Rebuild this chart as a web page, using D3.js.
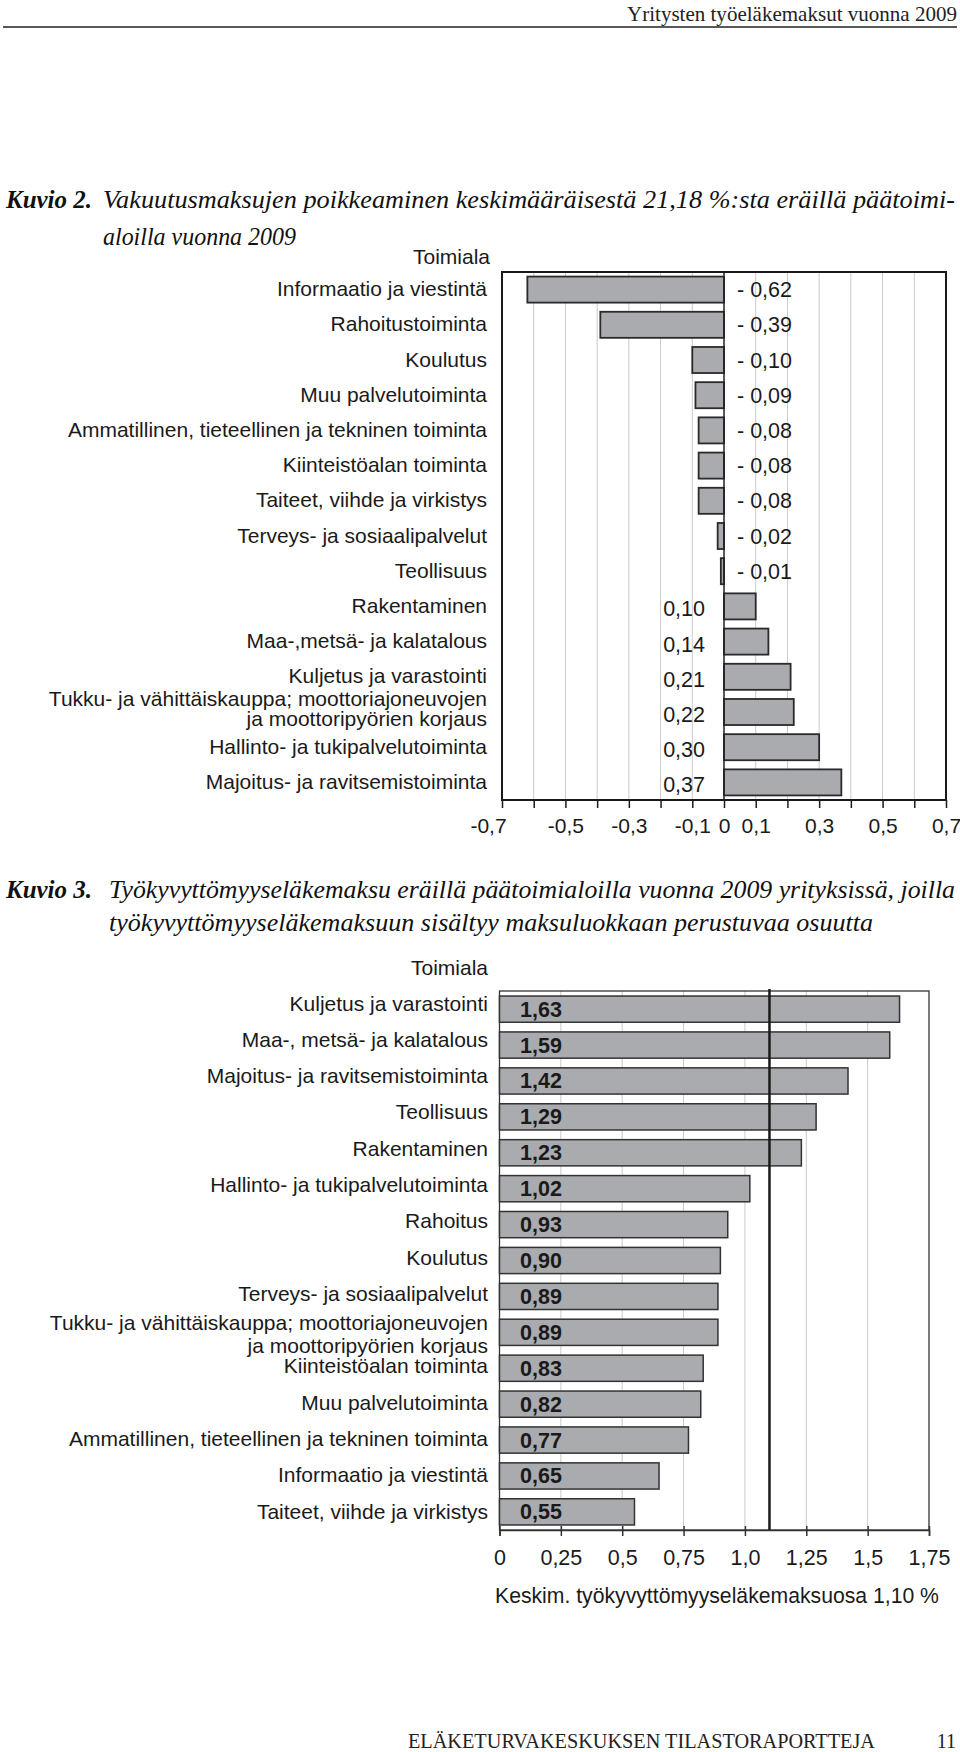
<!DOCTYPE html>
<html>
<head>
<meta charset="utf-8">
<script src="https://cdn.jsdelivr.net/npm/d3@7"></script>
<style>
  body { margin: 0; background: #fff; }
  svg { display: block; }
</style>
</head>
<body>
<svg id="page" width="960" height="1752"></svg>
<script>
// --- données : Kuvio 2 ---
const cats1 = [
  "Informaatio ja viestintä",
  "Rahoitustoiminta",
  "Koulutus",
  "Muu palvelutoiminta",
  "Ammatillinen, tieteellinen ja tekninen toiminta",
  "Kiinteistöalan toiminta",
  "Taiteet, viihde ja virkistys",
  "Terveys- ja sosiaalipalvelut",
  "Teollisuus",
  "Rakentaminen",
  "Maa-,metsä- ja kalatalous",
  "Kuljetus ja varastointi",
  "Tukku- ja vähittäiskauppa;  moottoriajoneuvojen\nja moottoripyörien korjaus",
  "Hallinto- ja tukipalvelutoiminta",
  "Majoitus- ja ravitsemistoiminta"
];
const vals1 = [-0.62, -0.39, -0.10, -0.09, -0.08, -0.08, -0.08, -0.02, -0.01,
               0.10, 0.14, 0.21, 0.22, 0.30, 0.37];
const ticks1 = [-0.7, -0.6, -0.5, -0.4, -0.3, -0.2, -0.1, 0, 0.1, 0.2, 0.3, 0.4, 0.5, 0.6, 0.7];
const tickLabels1 = ["-0,7", "", "-0,5", "", "-0,3", "", "-0,1", "0", "0,1", "", "0,3", "", "0,5", "", "0,7"];

// --- données : Kuvio 3 ---
const cats2 = [
  "Kuljetus ja varastointi",
  "Maa-, metsä- ja kalatalous",
  "Majoitus- ja ravitsemistoiminta",
  "Teollisuus",
  "Rakentaminen",
  "Hallinto- ja tukipalvelutoiminta",
  "Rahoitus",
  "Koulutus",
  "Terveys- ja sosiaalipalvelut",
  "Tukku- ja vähittäiskauppa;  moottoriajoneuvojen\nja moottoripyörien korjaus",
  "Kiinteistöalan toiminta",
  "Muu palvelutoiminta",
  "Ammatillinen, tieteellinen ja tekninen toiminta",
  "Informaatio ja viestintä",
  "Taiteet, viihde ja virkistys"
];
const vals2 = [1.63, 1.59, 1.42, 1.29, 1.23, 1.02, 0.93, 0.90, 0.89, 0.89, 0.83, 0.82, 0.77, 0.65, 0.55];
const ticks2 = [0, 0.25, 0.5, 0.75, 1.0, 1.25, 1.5, 1.75];
const tickLabels2 = ["0", "0,25", "0,5", "0,75", "1,0", "1,25", "1,5", "1,75"];
const average2 = 1.10;

const sans = "'Liberation Sans', Arial, sans-serif";
const serif = "'Liberation Serif', 'Times New Roman', serif";
const barFill = "#a9abae";
const barStroke = "#2a2a2a";
const gridColor = "#cacaca";
const fmt = v => d3.format(".2f")(Math.abs(v)).replace(".", ",");

const svg = d3.select("#page");

// --- en-tête de page ---
svg.append("text")
  .attr("x", 957).attr("y", 21)
  .attr("text-anchor", "end")
  .style("font-family", serif).style("font-size", "21px").attr("fill", "#222")
  .attr("textLength", 330).attr("lengthAdjust", "spacingAndGlyphs")
  .text("Yritysten työeläkemaksut vuonna 2009");
svg.append("line")
  .attr("x1", 3).attr("x2", 957).attr("y1", 27).attr("y2", 27)
  .attr("stroke", "#222").attr("stroke-width", 1.6);

// --- titres ---
function title(y, gap, num, line1, line2, x0, w2) {
  const g = svg.append("g").style("font-family", serif).style("font-size", "26px").attr("fill", "#111");
  g.append("text").attr("x", 6).attr("y", y)
    .style("font-style", "italic").style("font-weight", "bold")
    .attr("textLength", 86).attr("lengthAdjust", "spacingAndGlyphs").text(num);
  g.append("text").attr("x", x0).attr("y", y)
    .style("font-style", "italic")
    .attr("textLength", 955 - x0).attr("lengthAdjust", "spacingAndGlyphs")
    .text(line1);
  g.append("text").attr("x", x0).attr("y", y + gap)
    .style("font-style", "italic")
    .attr("textLength", w2).attr("lengthAdjust", "spacingAndGlyphs")
    .text(line2);
}
title(208, 37, "Kuvio 2.", "Vakuutusmaksujen poikkeaminen keskimääräisestä 21,18 %:sta eräillä päätoimi-",
      "aloilla vuonna 2009", 103, 193);
title(898, 33, "Kuvio 3.", "Työkyvyttömyyseläkemaksu eräillä päätoimialoilla vuonna 2009 yrityksissä, joilla",
      "työkyvyttömyyseläkemaksuun sisältyy maksuluokkaan perustuvaa osuutta", 109, 764);

// étiquettes de catégorie (multi-lignes possibles), centreY(c) = centre vertical
function catLabels(g, cats, centreY, xRight, lineH, multiShift) {
  cats.forEach(c => {
    const lines = c.split("\n");
    const t = g.append("text")
      .attr("text-anchor", "end")
      .style("font-family", sans).style("font-size", "21px").attr("fill", "#1a1a1a");
    const cy = centreY(c) + (lines.length > 1 ? multiShift : 0);
    lines.forEach((l, i) => {
      t.append("tspan")
        .attr("x", xRight)
        .attr("y", cy + 7.5 + (i - (lines.length - 1) / 2) * lineH)
        .text(l);
    });
  });
}

// --- KUVIO 2 : barres divergentes ---
{
  const left = 502, right = 946, top = 272, bottom = 800;
  const x = d3.scaleLinear().domain([-0.7, 0.7]).range([left, right]);
  const y = d3.scaleBand().domain(cats1).range([top, bottom]).paddingInner(0.26).paddingOuter(0.13);
  const g = svg.append("g");

  g.append("text").attr("x", 490).attr("y", 264).attr("text-anchor", "end")
    .style("font-family", sans).style("font-size", "21px").attr("fill", "#1a1a1a").text("Toimiala");

  // grille
  g.selectAll("line.grid").data(ticks1.filter(t => t !== 0 && Math.abs(t) < 0.7)).join("line")
    .attr("class", "grid")
    .attr("x1", d => x(d)).attr("x2", d => x(d)).attr("y1", top).attr("y2", bottom)
    .attr("stroke", gridColor).attr("stroke-width", 1);

  // barres
  const data = cats1.map((c, i) => ({ c, v: vals1[i] }));
  g.selectAll("rect.bar").data(data).join("rect")
    .attr("class", "bar")
    .attr("x", d => x(Math.min(0, d.v)))
    .attr("width", d => Math.abs(x(d.v) - x(0)))
    .attr("y", d => y(d.c))
    .attr("height", y.bandwidth())
    .attr("fill", barFill).attr("stroke", barStroke).attr("stroke-width", 1.8);

  // ligne zéro
  g.append("line").attr("x1", x(0)).attr("x2", x(0)).attr("y1", top).attr("y2", bottom)
    .attr("stroke", "#222").attr("stroke-width", 1.5);

  // cadre
  g.append("rect").attr("x", left).attr("y", top).attr("width", right - left).attr("height", bottom - top)
    .attr("fill", "none").attr("stroke", "#1a1a1a").attr("stroke-width", 2);

  // valeurs
  g.selectAll("text.val").data(data).join("text")
    .attr("class", "val")
    .attr("x", d => d.v < 0 ? 737 : 705)
    .attr("y", d => y(d.c) + y.bandwidth() / 2 + (d.v < 0 ? 7.5 : 10))
    .attr("text-anchor", d => d.v < 0 ? "start" : "end")
    .style("font-family", sans).style("font-size", "21.5px").attr("fill", "#1a1a1a")
    .text(d => d.v < 0 ? "- " + fmt(d.v) : fmt(d.v));

  catLabels(g, cats1, c => y(c) + y.bandwidth() / 2 - 1, 487, 20, -3);

  // axe
  const axis = d3.axisBottom(x).tickValues(ticks1).tickSize(8).tickPadding(10)
    .tickFormat((d, i) => tickLabels1[i]);
  const ax = g.append("g").attr("transform", `translate(0,${bottom})`).call(axis);
  ax.select(".domain").remove();
  ax.selectAll(".tick line").attr("stroke", "#1a1a1a").attr("stroke-width", 1.5);
  ax.selectAll(".tick text").style("font-family", sans).style("font-size", "21px").attr("fill", "#1a1a1a")
    .attr("dx", (d, i) => i === 0 ? -14 : 0);
}

// --- KUVIO 3 : barres horizontales ---
{
  const left = 499.5, right = 929, top = 991, bottom = 1530;
  const x = d3.scaleLinear().domain([0, 1.75]).range([left, right]);
  const y = d3.scaleBand().domain(cats2).range([top, bottom]).paddingInner(0.27).paddingOuter(0.14);
  // les libellés suivent un pas légèrement différent des barres
  const yLabel = d3.scalePoint().domain(cats2).range([1003, 1511]);
  const g = svg.append("g");

  g.append("text").attr("x", 488).attr("y", 975).attr("text-anchor", "end")
    .style("font-family", sans).style("font-size", "21px").attr("fill", "#1a1a1a").text("Toimiala");

  g.selectAll("line.grid").data(ticks2.filter(t => t > 0 && t < 1.75)).join("line")
    .attr("class", "grid")
    .attr("x1", d => x(d)).attr("x2", d => x(d)).attr("y1", top).attr("y2", bottom)
    .attr("stroke", gridColor).attr("stroke-width", 1);

  // cadre
  g.append("rect").attr("x", left).attr("y", top).attr("width", right - left).attr("height", bottom - top)
    .attr("fill", "none").attr("stroke", "#333").attr("stroke-width", 1.3);

  const data = cats2.map((c, i) => ({ c, v: vals2[i] }));
  g.selectAll("rect.bar").data(data).join("rect")
    .attr("class", "bar")
    .attr("x", x(0))
    .attr("width", d => x(d.v) - x(0))
    .attr("y", d => y(d.c))
    .attr("height", y.bandwidth())
    .attr("fill", barFill).attr("stroke", "#333").attr("stroke-width", 1.5);

  // moyenne
  g.append("line").attr("x1", x(average2)).attr("x2", x(average2)).attr("y1", top - 2).attr("y2", bottom)
    .attr("stroke", "#1a1a1a").attr("stroke-width", 2.5);

  g.selectAll("text.val").data(data).join("text")
    .attr("class", "val")
    .attr("x", 520)
    .attr("y", d => y(d.c) + y.bandwidth() / 2 + 7.5)
    .style("font-family", sans).style("font-size", "21.5px").style("font-weight", "bold").attr("fill", "#1a1a1a")
    .text(d => fmt(d.v));

  catLabels(g, cats2, c => yLabel(c), 488, 23, 4);

  const axis = d3.axisBottom(x).tickValues(ticks2).tickSize(6).tickPadding(14)
    .tickFormat((d, i) => tickLabels2[i]);
  const ax = g.append("g").attr("transform", `translate(0,${bottom})`).call(axis);
  ax.select(".domain").attr("stroke", "#333").attr("stroke-width", 1.5);
  ax.selectAll(".tick line").attr("stroke", "#333").attr("stroke-width", 1.5).attr("y1", -4);
  ax.selectAll(".tick text").style("font-family", sans).style("font-size", "21.5px").attr("fill", "#1a1a1a");

  g.append("text").attr("x", 495).attr("y", 1603)
    .style("font-family", sans).style("font-size", "21.2px").attr("fill", "#1a1a1a")
    .text("Keskim. työkyvyttömyyseläkemaksuosa 1,10 %");
}

// --- pied de page ---
svg.append("text").attr("x", 408).attr("y", 1748)
  .style("font-family", serif).style("font-size", "20px").attr("fill", "#222")
  .attr("textLength", 467).attr("lengthAdjust", "spacingAndGlyphs")
  .text("ELÄKETURVAKESKUKSEN TILASTORAPORTTEJA");
svg.append("text").attr("x", 956).attr("y", 1748).attr("text-anchor", "end")
  .style("font-family", serif).style("font-size", "20px").attr("fill", "#222")
  .text("11");
</script>
</body>
</html>
